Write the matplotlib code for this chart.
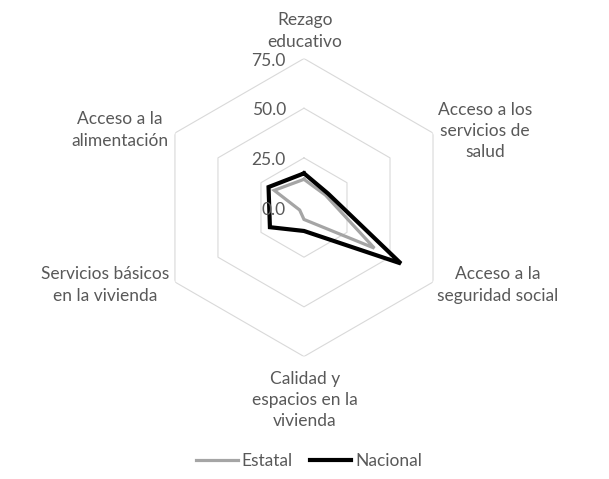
import numpy as np
import matplotlib
matplotlib.use("Agg")
import matplotlib.pyplot as plt
from matplotlib.lines import Line2D

categories = ["Rezago\neducativo", "Acceso a los\nservicios de\nsalud", "Acceso a la\nseguridad social",
              "Calidad y\nespacios en la\nvivienda", "Servicios básicos\nen la vivienda", "Acceso a la\nalimentación"]
estatal = [14.2, 12.5, 40.9, 6.0, 2.5, 17.3]
nacional = [17.2, 14.0, 56.3, 11.8, 19.8, 20.6]
rticks = [0, 25, 50, 75]
rtick_labels = ["0.0", "25.0", "50.0", "75.0"]
series_names = ["Estatal", "Nacional"]

TXT = "#595959"
plt.rcParams['font.family'] = ['Lato', 'DejaVu Sans']
plt.rcParams['font.weight'] = 'normal'

fig = plt.figure(figsize=(6.09, 4.79), dpi=100)
ax = fig.add_axes([0.2545, 0.2557, 0.4893, 0.6221], projection='polar')
ax.set_theta_zero_location('N')
ax.set_theta_direction(-1)
ax.set_ylim(0, 75)
ax.grid(False)
ax.spines['polar'].set_visible(False)
ax.set_xticks([])
ax.set_yticks([])
ax.patch.set_alpha(0)

n = len(categories)
theta = np.arange(n) * 2 * np.pi / n
theta_c = np.append(theta, theta[0])

for r in rticks[1:]:
    ax.plot(theta_c, [r] * (n + 1), color="#d9d9d9", lw=0.8, zorder=1)

ax.plot(theta_c, estatal + estatal[:1], color="#a5a5a5", lw=2.3, zorder=3, solid_joinstyle='miter')
ax.plot(theta_c, nacional + nacional[:1], color="black", lw=3.0, zorder=4, solid_joinstyle='miter')

# radial tick labels
for r, lab in zip(rticks, rtick_labels):
    ax.annotate(lab, xy=(0, r), xytext=(-13, -1.5), textcoords='offset points',
                ha='right', va='center', fontsize=12.5, color=TXT, zorder=5)

# category labels
label_pos = [(305, 31), (485, 131), (498, 285), (305, 400), (105, 285), (120, 130)]
for (px, py), lab in zip(label_pos, categories):
    fig.text(px / 609, 1 - py / 479, lab, ha='center', va='center', fontsize=12.5,
             color=TXT, linespacing=1.4)

handles = [Line2D([], [], color="#a5a5a5", lw=2.3), Line2D([], [], color="black", lw=3.0)]
fig.legend(handles, series_names, loc='center', bbox_to_anchor=(309 / 609, 1 - 461 / 479),
           ncol=2, frameon=False, fontsize=12.5, labelcolor=TXT, handlelength=2.4,
           handletextpad=0.2, columnspacing=1.0)

fig.savefig("out.png", dpi=100, facecolor='white')
